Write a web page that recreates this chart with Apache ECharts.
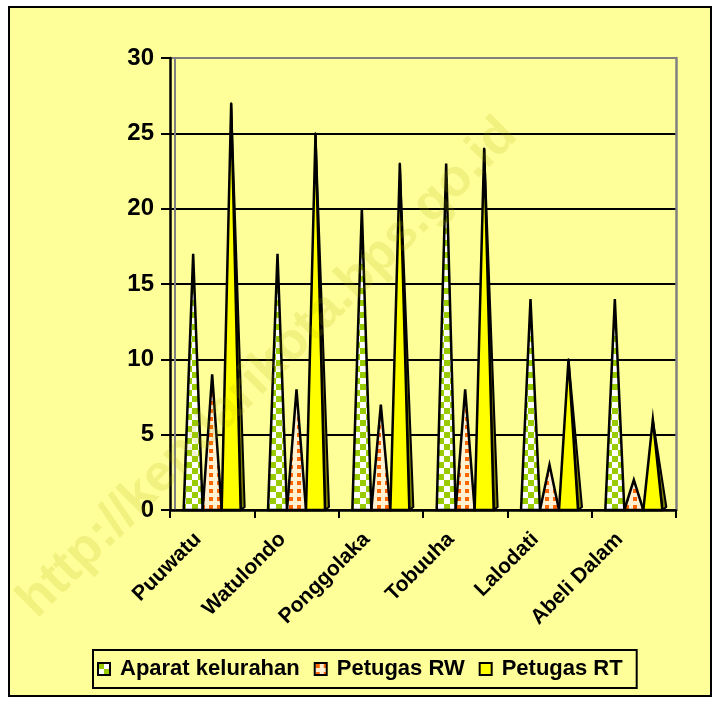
<!DOCTYPE html>
<html>
<head>
<meta charset="utf-8">
<script src="https://cdn.jsdelivr.net/npm/echarts@6/dist/echarts.min.js"></script>
<style>
body{margin:0;background:#fff}
#main{width:720px;height:704px}
</style>
</head>
<body>
<div id="main"></div>
<script>
// data
var kelurahan = ['Puuwatu', 'Watulondo', 'Ponggolaka', 'Tobuuha', 'Lalodati', 'Abeli Dalam']
var aparatKelurahan = [17, 17, 20, 23, 14, 14]
var petugasRW = [9, 8, 7, 8, 3, 2]
var petugasRT = [27, 25, 23, 24, 10, 6]
var seriesNames = ['Aparat kelurahan', 'Petugas RW', 'Petugas RT']

// pola isian
function checker() {
  var c = document.createElement('canvas')
  c.width = 12; c.height = 12
  var g = c.getContext('2d')
  g.fillStyle = '#fff'; g.fillRect(0, 0, 12, 12)
  g.fillStyle = '#99CC00'
  g.fillRect(0, 0, 6, 6); g.fillRect(6, 6, 6, 6)
  return c
}
function dots() {
  var c = document.createElement('canvas')
  c.width = 8; c.height = 8
  var g = c.getContext('2d')
  g.fillStyle = '#FFF0D0'; g.fillRect(0, 0, 8, 8)
  g.fillStyle = '#FF6600'
  g.fillRect(1, 1, 4, 4)
  return c
}
var fills = [
  { image: checker(), repeat: 'repeat' },
  { image: dots(), repeat: 'repeat' },
  '#FFFF00'
]

var chart = echarts.init(document.getElementById('main'))
var font = 'Arial, "Liberation Sans", sans-serif'
var coneW = 19

// kerucut
function cone(idx, data) {
  return {
    name: seriesNames[idx],
    type: 'custom',
    z: 3,
    itemStyle: { color: fills[idx] },
    renderItem: function(params, api) {
      var top = api.coord([api.value(0), api.value(1)])
      var base = api.coord([api.value(0), 0])
      var x = top[0] + (idx - 1) * coneW
      var children = []
      if (idx === 2) {
        children.push({
          type: 'polygon',
          shape: { points: [[x, top[1]], [x + coneW / 2 + 4, base[1] - 3], [x + coneW / 2, base[1]]] },
          style: { fill: '#808000', stroke: '#000', lineWidth: 2, lineJoin: 'round' }
        })
      }
      children.push({
        type: 'polygon',
        shape: { points: [[x - coneW / 2, base[1]], [x, top[1]], [x + coneW / 2, base[1]]] },
        style: { fill: fills[idx], stroke: '#000', lineWidth: 2.5, lineJoin: 'miter' }
      })
      return { type: 'group', children: children }
    },
    encode: { x: 0, y: 1 },
    data: data.map(function(v, i) { return [i, v] })
  }
}

chart.setOption({
  backgroundColor: '#fff',
  animation: false,
  textStyle: { fontFamily: font },
  graphic: [
    {
      type: 'rect', z: -10, silent: true,
      shape: { x: 9, y: 7, width: 702, height: 689 },
      style: { fill: '#FFFF99', stroke: '#000', lineWidth: 2 }
    },
    {
      type: 'text', z: 100, silent: true,
      x: 268, y: 368, rotation: Math.PI / 4,
      style: {
        text: 'http://kendarikota.bps.go.id',
        font: 'bold 52px Arial', fill: 'rgba(170,170,0,0.16)',
        align: 'center', verticalAlign: 'middle'
      }
    }
  ],
  grid: { left: 170, right: 44, top: 58, bottom: 194 },
  legend: {
    data: seriesNames,
    left: 93, top: 650,
    padding: [8, 14, 8, 4],
    backgroundColor: '#FFFF99',
    borderColor: '#000', borderWidth: 2, borderRadius: 0,
    itemWidth: 12, itemHeight: 12, itemGap: 14,
    icon: 'rect',
    itemStyle: { borderColor: '#000', borderWidth: 2 },
    textStyle: { fontSize: 22, fontWeight: 'bold', color: '#000', fontFamily: font, padding: [0, 0, 0, 5] }
  },
  xAxis: {
    type: 'category',
    data: kelurahan,
    axisLine: { lineStyle: { color: '#000', width: 2.5 } },
    axisTick: { show: true, length: 8, lineStyle: { color: '#000', width: 2 } },
    axisLabel: {
      rotate: 45, margin: 12, fontSize: 21, fontWeight: 'bold', color: '#000', fontFamily: font,
      interval: 0, padding: [0, 20, 0, 0]
    }
  },
  yAxis: [
    {
      type: 'value', min: 0, max: 30, interval: 5,
      axisLine: { show: true, lineStyle: { color: '#000', width: 2.5 } },
      axisTick: { show: true, length: 9, lineStyle: { color: '#000', width: 2 } },
      axisLabel: { fontSize: 24, fontWeight: 'bold', color: '#000', fontFamily: font, margin: 16 },
      splitLine: { show: true, lineStyle: { color: ['#000', '#000', '#000', '#000', '#000', '#000', '#808080'], width: 2 } }
    },
    {
      type: 'value', min: 0, max: 30, interval: 5, position: 'right',
      axisLine: { show: true, lineStyle: { color: '#808080', width: 2.5 } },
      axisTick: { show: false }, axisLabel: { show: false }, splitLine: { show: false }
    },
    {
      // dinding belakang
      type: 'value', min: 0, max: 30, interval: 5, position: 'left', offset: -5,
      axisLine: { show: true, lineStyle: { color: '#808080', width: 2 } },
      axisTick: { show: false }, axisLabel: { show: false }, splitLine: { show: false }
    }
  ],
  series: [
    cone(0, aparatKelurahan),
    cone(1, petugasRW),
    cone(2, petugasRT)
  ]
})
</script>
</body>
</html>
